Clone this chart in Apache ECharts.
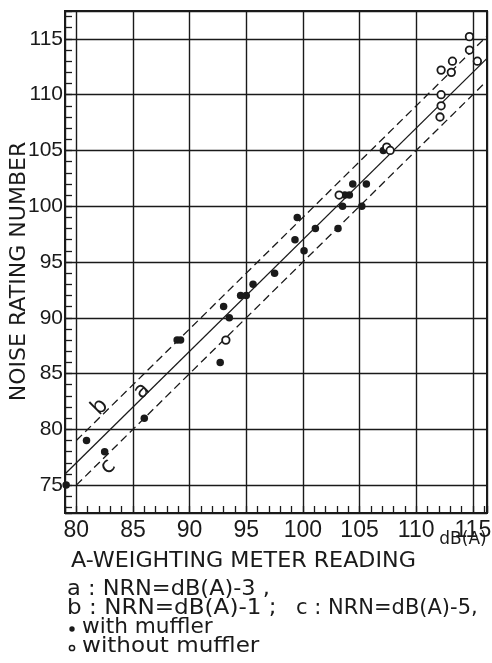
<!DOCTYPE html>
<html><head><meta charset="utf-8">
<script src="https://cdn.jsdelivr.net/npm/echarts@6/dist/echarts.min.js"></script>
<style>html,body{margin:0;padding:0;background:#fff}#c{width:492px;height:663px}</style>
</head><body><div id="c"></div>
<script>
// with muffler (filled dots)
const withMufflerX = [79.1, 80.9, 82.5, 86.0, 88.9, 89.2, 92.7, 93.0, 93.5, 94.5, 95.0, 95.6, 97.5, 99.3, 99.5, 100.1, 101.1, 103.1, 103.5, 103.7, 104.1, 104.4, 105.2, 105.6, 107.1];
const withMufflerY = [75, 79, 78, 81, 88, 88, 86, 91, 90, 92, 92, 93, 94, 97, 99, 96, 98, 98, 100, 101, 101, 102, 100, 102, 105];
// without muffler (open circles)
const withoutMufflerX = [93.2, 103.2, 107.4, 107.7, 112.1, 112.2, 112.2, 112.2, 113.1, 113.2, 114.7, 114.7, 115.4];
const withoutMufflerY = [88, 101, 105.3, 105, 108, 109, 110, 112.2, 112, 113, 114, 115.2, 113];
// reference lines: a: NRN=dB(A)-3, b: NRN=dB(A)-1, c: NRN=dB(A)-5
const lineAX = [79, 116.25], lineAY = [76, 113.25];
const lineBX = [80, 116.2], lineBY = [79, 115.2];
const lineCX = [80, 116.0], lineCY = [75, 111.0];
// tick labels
const xTickLabels = [80, 85, 90, 95, 100, 105, 110, 115];
const yTickLabels = [75, 80, 85, 90, 95, 100, 105, 110, 115];

const zip = (xs, ys) => xs.map((x, i) => [x, ys[i]]);
const ink = '#1a1a1a';
const chart = echarts.init(document.getElementById('c'), null, {renderer: 'canvas'});

const axisCommon = {
  type: 'value',
  axisLine: {show: true, lineStyle: {color: ink, width: 2}},
  axisTick: {show: true, inside: true, length: 7, lineStyle: {color: ink, width: 1.3}},
  minorTick: {show: true, splitNumber: 5, length: 7, lineStyle: {color: ink, width: 1.3}},
  splitLine: {show: true, lineStyle: {color: ink, width: 1.4}},
  minorSplitLine: {show: false}
};
const dv = '"DejaVu Sans", sans-serif';

chart.setOption({
  animation: false,
  backgroundColor: '#fff',
  grid: {left: 65, top: 11, right: 5, bottom: 150, containLabel: false, outerBoundsMode: 'none',
         show: true, borderColor: ink, borderWidth: 2, backgroundColor: 'transparent'},
  xAxis: Object.assign({}, axisCommon, {
    min: 79, max: 116.25, splitNumber: 7, minInterval: 5, maxInterval: 5,
    axisLabel: {show: true, margin: 6, color: ink, fontFamily: '"Liberation Sans Narrow", "Liberation Sans", sans-serif', fontSize: 23,
      showMinLabel: true, showMaxLabel: true,
      formatter: v => xTickLabels.indexOf(Math.round(v * 100) / 100) >= 0 ? String(v) : ''}
  }),
  yAxis: Object.assign({}, axisCommon, {
    min: 72.5, max: 117.5, splitNumber: 9, minInterval: 5, maxInterval: 5,
    axisLabel: {show: true, margin: 2, color: ink, fontFamily: '"Liberation Sans Narrow", "Liberation Sans", sans-serif', fontSize: 21,
      showMinLabel: true, showMaxLabel: true,
      formatter: v => yTickLabels.indexOf(Math.round(v * 100) / 100) >= 0 ? String(v) : ''}
  }),
  series: [
    {type: 'line', data: zip(lineAX, lineAY), showSymbol: false, silent: true, z: 3,
     lineStyle: {color: ink, width: 1.3, type: 'solid'}},
    {type: 'line', data: zip(lineBX, lineBY), showSymbol: false, silent: true, z: 3,
     lineStyle: {color: ink, width: 1.3, type: [8, 4.5]}},
    {type: 'line', data: zip(lineCX, lineCY), showSymbol: false, silent: true, z: 3,
     lineStyle: {color: ink, width: 1.3, type: [8, 4.5]}},
    {type: 'scatter', data: zip(withMufflerX, withMufflerY), symbol: 'circle', symbolSize: 7.5, clip: false, z: 5,
     itemStyle: {color: ink, opacity: 1}},
    {type: 'scatter', data: zip(withoutMufflerX, withoutMufflerY), symbol: 'circle', symbolSize: 7.5, clip: false, z: 6,
     itemStyle: {color: '#fff', borderColor: ink, borderWidth: 1.8, opacity: 1}}
  ],
  graphic: [
    {type: 'text', x: 19.5, y: 271.5, rotation: Math.PI / 2, scaleX: 1.05,
     style: {text: 'NOISE RATING NUMBER', font: '21px ' + dv, fill: ink, align: 'center', verticalAlign: 'middle'}},
    {type: 'text', x: 71, y: 561, scaleX: 1.01,
     style: {text: 'A-WEIGHTING METER READING', font: '22px ' + dv, fill: ink, align: 'left', verticalAlign: 'middle'}},
    {type: 'text', x: 463, y: 540,
     style: {text: 'dB(A)', font: '17px ' + dv, fill: ink, align: 'center', verticalAlign: 'middle'}},
    {type: 'text', x: 142, y: 391, rotation: Math.PI / 4,
     style: {text: 'a', font: '22px ' + dv, fill: ink, align: 'center', verticalAlign: 'middle'}},
    {type: 'text', x: 100, y: 407, rotation: Math.PI / 4,
     style: {text: 'b', font: '22px ' + dv, fill: ink, align: 'center', verticalAlign: 'middle'}},
    {type: 'text', x: 108, y: 467, rotation: Math.PI / 4,
     style: {text: 'c', font: '22px ' + dv, fill: ink, align: 'center', verticalAlign: 'middle'}},
    {type: 'text', x: 67, y: 590, scaleX: 1.07,
     style: {text: 'a : NRN=dB(A)-3 ,', font: '21px ' + dv, fill: ink, align: 'left', verticalAlign: 'middle'}},
    {type: 'text', x: 67, y: 609, scaleX: 1.1,
     style: {text: 'b : NRN=dB(A)-1 ;', font: '21px ' + dv, fill: ink, align: 'left', verticalAlign: 'middle'}},
    {type: 'text', x: 296, y: 609,
     style: {text: 'c : NRN=dB(A)-5,', font: '21px ' + dv, fill: ink, align: 'left', verticalAlign: 'middle'}},
    {type: 'circle', shape: {cx: 72, cy: 629, r: 2.7}, style: {fill: ink}},
    {type: 'text', x: 82, y: 628, scaleX: 1.03,
     style: {text: 'with muffler', font: '21px ' + dv, fill: ink, align: 'left', verticalAlign: 'middle'}},
    {type: 'circle', shape: {cx: 72, cy: 648, r: 2.6}, style: {fill: '#fff', stroke: ink, lineWidth: 1.5}},
    {type: 'text', x: 82, y: 647, scaleX: 1.1,
     style: {text: 'without muffler', font: '21px ' + dv, fill: ink, align: 'left', verticalAlign: 'middle'}}
  ]
});
</script>
</body></html>
